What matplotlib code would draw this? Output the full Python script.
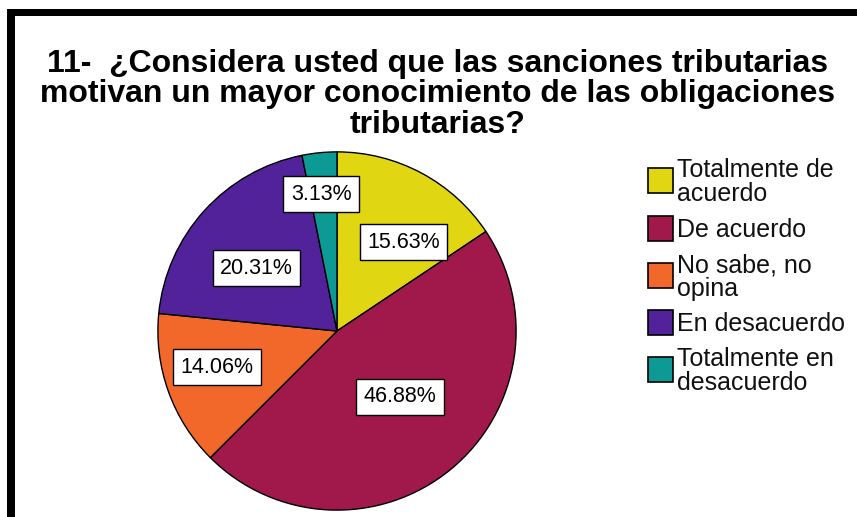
import numpy as np
import matplotlib
matplotlib.use("Agg")
import matplotlib.pyplot as plt
from matplotlib.patches import Rectangle

plt.rcParams['font.family'] = ['Liberation Sans', 'DejaVu Sans']

# Survey answers (percent of respondents)
categories = ["Totalmente de\nacuerdo", "De acuerdo", "No sabe, no\nopina",
              "En desacuerdo", "Totalmente en\ndesacuerdo"]
percentages = [15.63, 46.88, 14.06, 20.31, 3.13]
colors = ["#E0D611", "#A1184B", "#F2682A", "#51229A", "#0E9A94"]
title = ("11-  ¿Considera usted que las sanciones tributarias\n"
         "motivan un mayor conocimiento de las obligaciones\n"
         "tributarias?")

W, H = 857, 517
fig = plt.figure(figsize=(W / 100, H / 100), dpi=100)
fig.patch.set_facecolor("white")

def fx(px):
    return px / W

def fy(py):
    return 1 - py / H

# Frame: thick black bars on the top and left sides
fig.add_artist(Rectangle((fx(7), fy(16)), fx(W - 7), 7 / H, transform=fig.transFigure,
                         facecolor="black", edgecolor="none"))
fig.add_artist(Rectangle((fx(7), 0), fx(8), fy(9), transform=fig.transFigure,
                         facecolor="black", edgecolor="none"))

# Title
fig.text(fx(438), fy(49), title, ha="center", va="top", fontsize=23,
         fontweight="bold", linespacing=1.02, color="black")

# Pie
cx, cy, r = 337, 331, 180
ax = fig.add_axes([fx(cx - r), fy(cy + r), 2 * r / W, 2 * r / H])
ax.axis("off")
wedges, _ = ax.pie(percentages, colors=colors, startangle=90, counterclock=False,
                   radius=1.0, wedgeprops=dict(edgecolor="black", linewidth=1.0))
ax.set_xlim(-1.005, 1.005)
ax.set_ylim(-1.005, 1.005)
ax.set_aspect("equal")

# Percentage labels: placed along each slice, nudged off its bisector
label_radius = [0.62, 0.51, 0.70, 0.57, 0.77]
label_turn = [-8.6, 4.4, -2.9, 4.2, 1.0]
for w, pct, lr, dt in zip(wedges, percentages, label_radius, label_turn):
    ang = np.deg2rad((w.theta1 + w.theta2) / 2 + dt)
    ax.text(lr * np.cos(ang), lr * np.sin(ang), f"{pct:.2f}%", ha="center", va="center",
            fontsize=15.5, color="black",
            bbox=dict(boxstyle="square,pad=0.34", facecolor="white",
                      edgecolor="black", linewidth=1.0))

# Legend drawn as evenly spaced swatches with labels
box_top = [168, 216, 263, 310, 357]
for top, lab, col in zip(box_top, categories, colors):
    fig.add_artist(Rectangle((fx(648), fy(top + 25)), 25 / W, 25 / H,
                             transform=fig.transFigure, facecolor=col,
                             edgecolor="black", linewidth=1.2))
    fig.text(fx(677), fy(top + 14), lab, ha="left", va="center", fontsize=18,
             linespacing=1.0, color="#111111")

fig.savefig("out.png", dpi=100, facecolor="white")
